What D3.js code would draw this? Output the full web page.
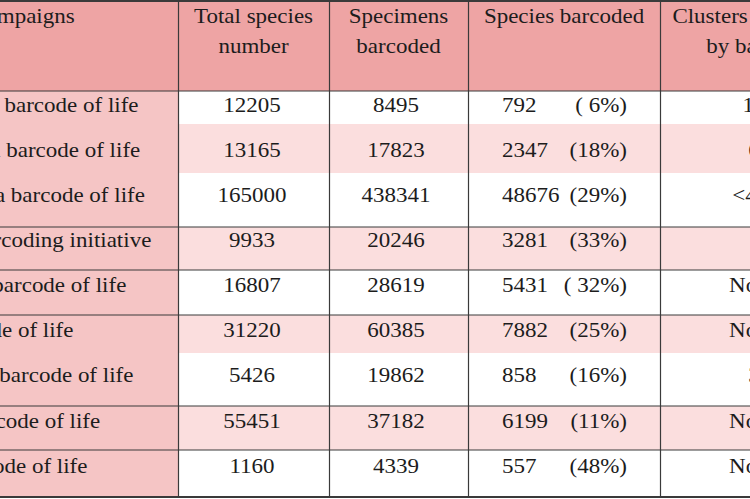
<!DOCTYPE html>
<html>
<head>
<meta charset="utf-8">
<script src="https://cdn.jsdelivr.net/npm/d3@7"></script>
<style>
  body { margin: 0; background: #fff; }
  svg { display: block; }
  text { font-family: "Liberation Serif", "Times New Roman", serif; font-size: 20px; fill: #1c1c1c; }
</style>
</head>
<body>
<svg id="viz"></svg>
<script>
var width = 750;
var height = 499;

// ====================================================
// Data (read off the table)
// ====================================================
var campaigns = [
  "Formicidae barcode of life",
  "Trichoptera barcode of life",
  "Lepidoptera barcode of life",
  "All bird barcoding initiative",
  "Coral reef barcode of life",
  "Fish barcode of life",
  "Mammalia barcode of life",
  "Marine barcode of life",
  "Shark barcode of life"
];
var totalSpecies = [12205, 13165, 165000, 9933, 16807, 31220, 5426, 55451, 1160];
var specimens = [8495, 17823, 438341, 20246, 28619, 60385, 19862, 37182, 4339];
var speciesBarcoded = [792, 2347, 48676, 3281, 5431, 7882, 858, 6199, 557];
var pctLabels = ["( 6%)", "(18%)", "(29%)", "(33%)", "( 32%)", "(25%)", "(16%)", "(11%)", "(48%)"];
var clusters = ["12", "6", "<4%", "", "None", "None", "3", "None", "None"];

var headers = [
  ["Barcode campaigns"],
  ["Total species", "number"],
  ["Specimens", "barcoded"],
  ["Species barcoded"],
  ["Clusters identified", "by barcode"]
];

// ====================================================
// Layout
// ====================================================
var colEdges = [-120, 178, 329, 468, 660, 852];
var rowEdges = [91, 124, 173, 227, 270, 315, 353, 406, 450, 497];
var ruleAfter = [2, 3, 4, 6, 7, 8];   // rows followed by a ruled line
var labelX = -106;
var stretch = 1.15;                  // the table was scanned wider than tall

var headerFill = "#eea4a4";
var firstColFill = "#f5c5c5";
var stripeFill = "#fbdede";
var lineColor = "#3a3a3a";

var nRows = campaigns.length;
var baseline = d3.scaleLinear().domain([0, nRows - 1]).range([111.5, 472.7]);
var colMid = i => (colEdges[i] + colEdges[i + 1]) / 2;

var svg = d3.select("#viz")
  .attr("width", width)
  .attr("height", height);

function addText(g, x, y, str, anchor) {
  return g.append("text")
    .attr("transform", `translate(${x},${y}) scale(${stretch},1)`)
    .attr("text-anchor", anchor)
    .text(str);
}

// ====================================================
// Backgrounds
// ====================================================
var bg = svg.append("g");

bg.append("rect")
  .attr("x", 0).attr("y", 0)
  .attr("width", width).attr("height", rowEdges[0])
  .attr("fill", headerFill);

bg.selectAll("rect.stripe")
  .data(d3.range(nRows).filter(i => i % 2 == 1))
  .join("rect")
  .attr("class", "stripe")
  .attr("x", colEdges[1])
  .attr("y", i => rowEdges[i])
  .attr("width", width - colEdges[1])
  .attr("height", i => rowEdges[i + 1] - rowEdges[i])
  .attr("fill", stripeFill);

bg.append("rect")
  .attr("x", 0).attr("y", rowEdges[0])
  .attr("width", colEdges[1]).attr("height", rowEdges[nRows] - rowEdges[0])
  .attr("fill", firstColFill);

// ====================================================
// Rules
// ====================================================
var lines = svg.append("g").attr("stroke", lineColor);

lines.append("line")
  .attr("x1", 0).attr("x2", width)
  .attr("y1", 1).attr("y2", 1)
  .attr("stroke-width", 2);

lines.selectAll("line.h")
  .data([rowEdges[0]].concat(ruleAfter.map(i => rowEdges[i + 1])))
  .join("line")
  .attr("class", "h")
  .attr("x1", 0).attr("x2", width)
  .attr("y1", d => d).attr("y2", d => d)
  .attr("stroke-width", (d, i) => d == rowEdges[nRows] ? 2 : 1.2);

lines.selectAll("line.v")
  .data(colEdges.slice(1, 5))
  .join("line")
  .attr("class", "v")
  .attr("x1", d => d + 0.5).attr("x2", d => d + 0.5)
  .attr("y1", 0).attr("y2", rowEdges[nRows])
  .attr("stroke-width", 1.2);

// ====================================================
// Header
// ====================================================
var head = svg.append("g");
headers.forEach(function (lns, c) {
  lns.forEach(function (s, k) {
    if (c == 0) addText(head, labelX, 23 + k * 30, s, "start");
    else addText(head, colMid(c) + (c == 4 ? 1 : 0), 23 + k * 30, s, "middle");
  });
});

// ====================================================
// Body
// ====================================================
var body = svg.append("g");
d3.range(nRows).forEach(function (i) {
  var y = baseline(i);
  addText(body, labelX, y, campaigns[i], "start");
  addText(body, colMid(1) - 1.5, y, totalSpecies[i], "middle");
  addText(body, colMid(2) - 2.5, y, specimens[i], "middle");
  addText(body, colEdges[3] + 34, y, speciesBarcoded[i], "start");
  addText(body, colEdges[3] + 159, y, pctLabels[i], "end");
  if (clusters[i]) addText(body, colMid(4) - 2, y, clusters[i], "middle");
});
</script>
</body>
</html>
